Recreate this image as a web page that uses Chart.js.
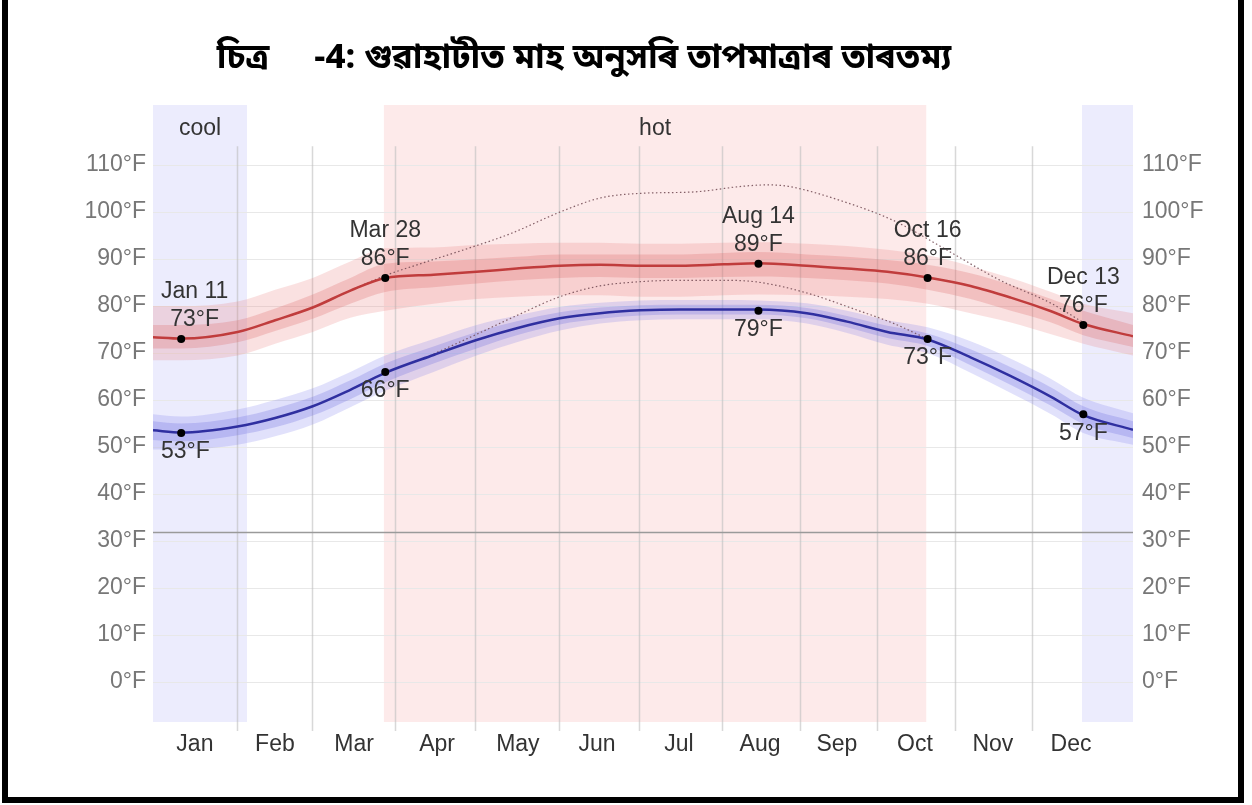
<!DOCTYPE html>
<html>
<head>
<meta charset="utf-8">
<script src="https://cdn.jsdelivr.net/npm/chart.js@4.4.0/dist/chart.umd.min.js"></script>
<style>
  html, body { margin: 0; padding: 0; background: #fff; overflow: hidden; }
  #wrap { position: relative; width: 1252px; height: 805px; }
  #frame { position: absolute; left: 2px; top: -10px; width: 1242px; height: 813px; border: 6px solid #000; box-sizing: border-box; pointer-events: none; }
  #title { position: absolute; left: 0; width: 1168px; top: 38px; text-align: center; font: bold 34.5px "Noto Sans Bengali", "Noto Sans", sans-serif; white-space: pre; color: #000; line-height: 42px; }
  canvas { position: absolute; left: 0; top: 0; }
</style>
</head>
<body>
<div id="wrap">
  <canvas id="chart" width="1252" height="805"></canvas>
  <div id="title">চিত্ৰ     -4: গুৱাহাটীত মাহ অনুসৰি তাপমাত্ৰাৰ তাৰতম্য</div>
  <div id="frame"></div>
</div>
<script>
(function(){
    // day of year (Jan 1 = 1)
    const days = [0.5, 11, 32, 46, 60, 74, 87, 105, 121, 136, 152, 167, 182, 197, 213, 226, 244, 259, 274, 289, 305, 320, 335, 347, 365.5];

    // daily high, °F, with percentile bands
    const high    = [73.4, 73.1, 74.5, 77, 79.7, 83.3, 86, 86.7, 87.3, 88, 88.6, 88.8, 88.6, 88.6, 88.9, 89.1, 88.6, 88, 87.3, 86.1, 84.3, 81.8, 78.9, 76.2, 73.6];
    const highP90 = [80, 80, 81, 83.5, 86, 89.5, 92.3, 92.5, 93, 93.3, 93.5, 93.5, 93.3, 93.3, 93.5, 93.6, 93.3, 92.8, 92, 90.8, 88.5, 86, 83, 80.5, 78.5];
    const highP75 = [76, 76, 77, 79.5, 82.5, 86, 89, 89.5, 90, 90.5, 91, 91, 91, 91, 91.3, 91.5, 91, 90.5, 89.8, 88.8, 87, 84.5, 81.5, 79, 76];
    const highP25 = [71, 71, 72.3, 74.7, 77.3, 80.5, 83, 84, 84.8, 85.5, 86, 86.2, 86, 86, 86.2, 86.3, 86, 85.5, 84.8, 83.5, 81.5, 79, 76.5, 73.8, 71.3];
    const highP10 = [68.5, 68.5, 69.5, 72, 74.5, 77.5, 79, 80.5, 81.5, 82, 82.3, 82.3, 82, 82, 82.3, 82.5, 82.3, 82, 81.5, 80.5, 78.5, 76.5, 74, 72, 69.5];

    // daily low, °F, with percentile bands
    const low    = [53.6, 53.1, 54.4, 56.2, 58.7, 62.2, 65.8, 69.6, 72.8, 75.3, 77.4, 78.5, 79.1, 79.3, 79.3, 79.3, 78.5, 76.7, 74.5, 72.9, 69.1, 65.1, 60.7, 56.8, 53.7];
    const lowP90 = [57, 56.5, 58, 60, 62.5, 66, 69.5, 73, 76, 78, 79.8, 80.7, 81.2, 81.3, 81.3, 81.2, 80.6, 79, 77, 75.5, 72.5, 68.8, 64.5, 60.5, 57.2];
    const lowP75 = [55.5, 55, 56.3, 58.2, 60.7, 64.2, 67.8, 71.4, 74.5, 76.8, 78.7, 79.7, 80.2, 80.3, 80.3, 80.3, 79.6, 77.9, 75.8, 74.2, 70.8, 67, 62.7, 58.7, 55.5];
    const lowP25 = [51.5, 51.2, 52.5, 54.2, 56.7, 60.2, 63.8, 67.8, 71, 73.8, 76.1, 77.3, 78, 78.2, 78.2, 78.2, 77.4, 75.5, 73.2, 71.5, 67.4, 63.2, 58.8, 54.9, 51.9];
    const lowP10 = [49.5, 49.5, 50.5, 52.3, 54.8, 58.5, 62, 66, 69.5, 72.3, 74.8, 76.3, 77, 77.2, 77.2, 77.2, 76.3, 74.3, 71.8, 70, 65.8, 61.5, 57, 53, 50.5];

    // perceived temperature (dotted)
    const feelsHighDays = [60, 74, 87, 100, 119, 134, 152, 167, 182, 202, 220, 229, 237, 259, 276, 296, 308, 316, 335, 347];
    const feelsHigh     = [79.7, 83.3, 86.5, 89, 92.5, 95.5, 100, 103, 104, 104.3, 105.5, 105.8, 105.5, 102, 98.3, 92, 88, 85.5, 80.6, 76.5];
    const feelsLowDays  = [105, 121, 136, 152, 167, 182, 197, 213, 226, 244, 263, 276, 289];
    const feelsLow      = [69.8, 74, 78, 82, 84.3, 85.2, 85.5, 85.5, 85.1, 82.8, 79.1, 76.4, 73];

    // highlighted days
    const hlDays  = [11, 87, 226, 289, 347];
    const hlNames = ['Jan 11', 'Mar 28', 'Aug 14', 'Oct 16', 'Dec 13'];
    const hlHigh  = [73, 86, 89, 86, 76];
    const hlLow   = [53, 66, 79, 73, 57];

    // seasons
    const seasonNames = ['cool', 'hot', ''];
    const seasonFrom  = [0.5, 86.5, 346.5];
    const seasonTo    = [35.5, 288.5, 365.5];

    // axes
    const months       = ['Jan', 'Feb', 'Mar', 'Apr', 'May', 'Jun', 'Jul', 'Aug', 'Sep', 'Oct', 'Nov', 'Dec'];
    const monthLabelAt = [16.1, 45.9, 75.4, 106.3, 136.4, 165.9, 196.4, 226.6, 255.2, 284.3, 313.3, 342.4];
    const monthLineAt  = [31.8, 59.7, 90.6, 120.4, 151.7, 181.5, 212.4, 241.5, 270.1, 299.2, 327.9];
    const yTicks = [0, 10, 20, 30, 40, 50, 60, 70, 80, 90, 100, 110];
    const freezing = 32;

    const FONT = '"Liberation Sans", Arial, sans-serif';
    const pts = (xs, ys) => xs.map((x, i) => ({x: x, y: ys[i]}));

    function band(values, fillTo, color){
        return {
            data: pts(days, values), fill: fillTo, backgroundColor: color,
            borderWidth: 0, pointRadius: 0, cubicInterpolationMode: 'monotone', order: 5
        };
    }

    const datasets = [
        band(highP90, 1, 'rgba(232,120,120,0.22)'),
        band(highP10, false, 'transparent'),
        band(highP75, 3, 'rgba(215,90,90,0.25)'),
        band(highP25, false, 'transparent'),
        band(lowP90, 5, 'rgba(120,120,235,0.22)'),
        band(lowP10, false, 'transparent'),
        band(lowP75, 7, 'rgba(95,95,220,0.25)'),
        band(lowP25, false, 'transparent'),
        { data: pts(days, high), borderColor: '#c03c3c', borderWidth: 2.5, pointRadius: 0, cubicInterpolationMode: 'monotone', fill: false, order: 2 },
        { data: pts(days, low), borderColor: '#2f2fa0', borderWidth: 2.5, pointRadius: 0, cubicInterpolationMode: 'monotone', fill: false, order: 2 },
        { data: pts(feelsHighDays, feelsHigh), borderColor: 'rgba(110,70,80,0.85)', borderWidth: 1.2, borderDash: [1.5, 2.5], pointRadius: 0, cubicInterpolationMode: 'monotone', fill: false, order: 3 },
        { data: pts(feelsLowDays, feelsLow), borderColor: 'rgba(110,70,80,0.85)', borderWidth: 1.2, borderDash: [1.5, 2.5], pointRadius: 0, cubicInterpolationMode: 'monotone', fill: false, order: 3 },
        { data: pts(hlDays, hlHigh), showLine: false, pointRadius: 4, pointBackgroundColor: '#000', pointBorderWidth: 0, order: 0 },
        { data: pts(hlDays, hlLow), showLine: false, pointRadius: 4, pointBackgroundColor: '#000', pointBorderWidth: 0, order: 0 }
    ];

    const decorations = {
        id: 'decorations',
        beforeDraw(chart){
            const {ctx, chartArea: a, scales: {x}} = chart;
            ctx.save();
            seasonNames.forEach((name, i) => {
                const x0 = x.getPixelForValue(seasonFrom[i]);
                const x1 = x.getPixelForValue(seasonTo[i]);
                ctx.fillStyle = name === 'hot' ? '#fdeaea' : '#ececfd';
                ctx.fillRect(x0, a.top, x1 - x0, a.bottom - a.top);
                if (name) {
                    ctx.fillStyle = '#333';
                    ctx.font = '23px ' + FONT;
                    ctx.textAlign = 'center';
                    ctx.textBaseline = 'middle';
                    ctx.fillText(name, (x0 + x1) / 2, a.top + 24);
                }
            });
            ctx.restore();
        },
        beforeDatasetsDraw(chart){
            const {ctx, chartArea: a, scales: {x, y}} = chart;
            ctx.save();
            ctx.strokeStyle = 'rgba(190,190,190,0.6)';
            ctx.lineWidth = 1.5;
            const top = y.getPixelForValue(114);
            monthLineAt.forEach(d => {
                const px = Math.round(x.getPixelForValue(d)) + 0.5;
                ctx.beginPath();
                ctx.moveTo(px, top);
                ctx.lineTo(px, a.bottom + 9);
                ctx.stroke();
            });
            const fy = Math.round(y.getPixelForValue(freezing)) + 0.5;
            ctx.strokeStyle = '#9a9a9a';
            ctx.lineWidth = 1.3;
            ctx.beginPath();
            ctx.moveTo(a.left, fy);
            ctx.lineTo(a.right, fy);
            ctx.stroke();
            ctx.restore();
        },
        afterDatasetsDraw(chart){
            const {ctx, chartArea: a, scales: {x, y}} = chart;
            ctx.save();
            ctx.fillStyle = '#333';
            ctx.font = '23px ' + FONT;
            ctx.textAlign = 'center';
            ctx.textBaseline = 'middle';
            // keep labels inside the plot, as the source chart does
            const nudge = (px, text) => Math.max(px, a.left + 8 + ctx.measureText(text).width / 2);
            hlDays.forEach((d, i) => {
                const px = x.getPixelForValue(d);
                const ph = y.getPixelForValue(hlHigh[i]);
                const pl = y.getPixelForValue(hlLow[i]);
                const hx = nudge(px, hlNames[i]);
                ctx.fillText(hlNames[i], hx, ph - 47);
                ctx.fillText(hlHigh[i] + '°F', hx, ph - 19);
                const lt = hlLow[i] + '°F';
                ctx.fillText(lt, nudge(px, lt), pl + 19);
            });
            ctx.restore();
        }
    };

    const yTickOpts = pad => ({
        color: '#777', font: {family: FONT, size: 23}, padding: pad,
        callback: v => v + '°F'
    });

    new Chart(document.getElementById('chart'), {
        type: 'line',
        data: {datasets: datasets},
        plugins: [decorations],
        options: {
            responsive: false,
            animation: false,
            layout: {padding: {top: 105, left: 0, right: 0, bottom: 0}},
            plugins: {legend: {display: false}, tooltip: {enabled: false}},
            scales: {
                x: {
                    type: 'linear', min: 0.5, max: 365.5,
                    grid: {display: false, drawTicks: false}, border: {display: false},
                    afterBuildTicks: s => { s.ticks = monthLabelAt.map(v => ({value: v})); },
                    afterFit: s => { s.height = 83; },
                    ticks: {
                        autoSkip: false, maxRotation: 0, padding: 9,
                        color: '#333', font: {family: FONT, size: 23},
                        callback: (v, i) => months[i]
                    }
                },
                y: {
                    position: 'left', min: -8.5, max: 122.8,
                    grid: {color: '#e8e8e8', lineWidth: 1, drawTicks: false}, border: {display: false},
                    afterBuildTicks: s => { s.ticks = yTicks.map(v => ({value: v})); },
                    afterFit: s => { s.width = 153; },
                    ticks: yTickOpts(7)
                },
                y2: {
                    position: 'right', min: -8.5, max: 122.8,
                    grid: {display: false, drawTicks: false}, border: {display: false},
                    afterBuildTicks: s => { s.ticks = yTicks.map(v => ({value: v})); },
                    afterFit: s => { s.width = 119; },
                    ticks: yTickOpts(9)
                }
            }
        }
    });
})()
</script>
</body>
</html>
